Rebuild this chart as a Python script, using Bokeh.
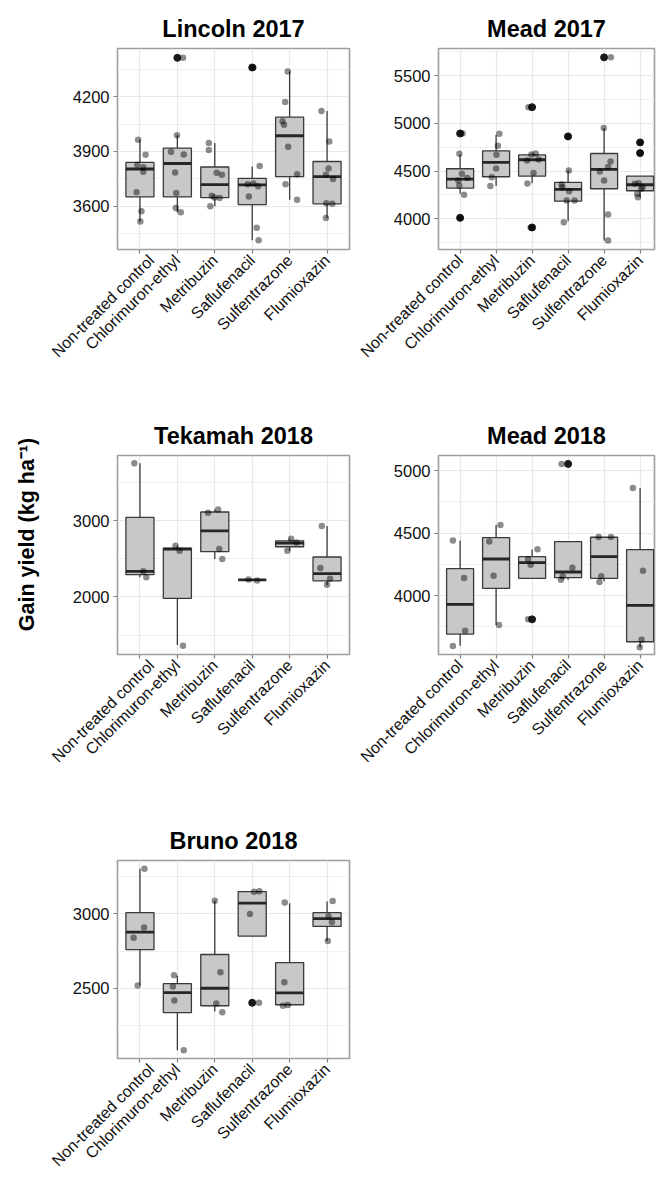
import math
from bokeh.plotting import figure
from bokeh.layouts import row, column
from bokeh.models import Range1d, FixedTicker, ColumnDataSource, Label
from bokeh.embed import file_html
from bokeh.resources import INLINE

treatments = ["Non-treated control", "Chlorimuron-ethyl", "Metribuzin",
              "Saflufenacil", "Sulfentrazone", "Flumioxazin"]
trt_pos = [1, 2, 3, 4, 5, 6]

# ---------------- Lincoln 2017 ----------------
lin17_lo = [3517, 3567, 3600, 3413, 3636, 3535]
lin17_q1 = [3651, 3651, 3647, 3609, 3762, 3613]
lin17_med = [3804, 3834, 3718, 3717, 3986, 3762]
lin17_q3 = [3840, 3918, 3815, 3753, 4088, 3845]
lin17_hi = [3964, 3989, 3946, 3818, 4338, 4122]
lin17_out_trt = [1, 3]
lin17_out_val = [4413, 4360]
lin17_pt_trt = [0, 0, 0, 0, 0, 0, 0, 0, 1, 1, 1, 1, 1, 1, 1, 1, 2, 2, 2, 2, 2, 2, 2, 2,
                3, 3, 3, 3, 3, 3, 3, 3, 4, 4, 4, 4, 4, 4, 4, 4, 5, 5, 5, 5, 5, 5, 5, 5]
lin17_pt_jit = [-0.05, 0.15, -0.07, 0.09, 0.09, -0.09, 0.04, 0.01,
                0.15, -0.01, -0.17, 0.17, -0.06, -0.03, -0.04, 0.09,
                -0.16, -0.16, 0.05, 0.19, -0.08, -0.01, 0.13, -0.12,
                0.03, 0.2, -0.12, 0.03, 0.16, -0.09, 0.12, 0.17,
                -0.05, -0.12, -0.19, -0.15, -0.04, 0.2, -0.11, 0.2,
                -0.15, 0.06, 0.04, -0.03, 0.16, -0.02, 0.14, -0.03]
lin17_pt_val = [3964, 3882, 3827, 3813, 3789, 3676, 3573, 3517,
                4413, 3989, 3898, 3884, 3785, 3673, 3591, 3567,
                3946, 3908, 3784, 3773, 3657, 3648, 3645, 3600,
                4360, 3820, 3720, 3725, 3709, 3653, 3482, 3413,
                4338, 4171, 4066, 4046, 3926, 3775, 3720, 3636,
                4122, 3955, 3807, 3773, 3749, 3616, 3613, 3535]
lin17_yrange = [3363, 4464]
lin17_yticks = [3600, 3900, 4200]
lin17_yminor = [3450, 3750, 4050, 4350]

# ---------------- Mead 2017 ----------------
mea17_lo = [4262, 4343, 4374, 3975, 3773, 4227]
mea17_q1 = [4322, 4441, 4448, 4185, 4315, 4294]
mea17_med = [4416, 4591, 4619, 4308, 4518, 4357]
mea17_q3 = [4525, 4713, 4671, 4381, 4685, 4448]
mea17_hi = [4675, 4878, 4686, 4507, 4951, 4448]
mea17_out_trt = [0, 0, 2, 2, 3, 4, 5, 5]
mea17_out_val = [4895, 4010, 5171, 3909, 4864, 5693, 4801, 4689]
mea17_pt_trt = [0, 0, 0, 0, 0, 0, 0, 0, 1, 1, 1, 1, 1, 1, 2, 2, 2, 2, 2, 2, 2, 2,
                3, 3, 3, 3, 3, 3, 3, 3, 4, 4, 4, 4, 4, 4, 4, 4, 5, 5, 5, 5, 5, 5, 5, 5]
mea17_pt_jit = [0.07, -0.02, 0.05, 0.2, -0.05, -0.02, 0.11, 0.01,
                0.09, 0.05, 0.01, 0.0, -0.12, -0.16,
                -0.1, 0.1, -0.02, -0.14, 0.18, 0.04, -0.13, -0.04,
                -0.02, 0.02, -0.18, -0.16, 0.03, 0.18, -0.04, -0.12,
                0.19, -0.01, 0.18, 0.11, -0.12, 0.0, 0.11, 0.11,
                0.0, 0.0, -0.15, -0.04, 0.03, -0.06, -0.08, 0.07]
mea17_pt_val = [4895, 4682, 4472, 4427, 4402, 4350, 4252, 4010,
                4892, 4766, 4671, 4528, 4437, 4343,
                5171, 4686, 4675, 4612, 4622, 4479, 4371, 3909,
                4864, 4507, 4360, 4332, 4290, 4192, 4192, 3965,
                5693, 4951, 4601, 4542, 4497, 4402, 4045, 3773,
                4801, 4689, 4367, 4374, 4315, 4227, 4262, 4332]
mea17_yrange = [3678, 5786]
mea17_yticks = [4000, 4500, 5000, 5500]
mea17_yminor = [3750, 4250, 4750, 5250, 5750]

# ---------------- Tekamah 2018 ----------------
tek18_lo = [2260, 1370, 2498, 2225, 2606, 2156]
tek18_q1 = [2294, 1983, 2593, 2225, 2658, 2212]
tek18_med = [2335, 2628, 2866, 2225, 2706, 2307]
tek18_q3 = [3043, 2641, 3113, 2225, 2736, 2524]
tek18_hi = [3753, 2671, 3147, 2225, 2762, 2931]
tek18_out_trt = []
tek18_out_val = []
tek18_pt_trt = [0, 0, 0, 1, 1, 1, 2, 2, 2, 2, 3, 3, 4, 4, 4, 5, 5, 5, 5]
tek18_pt_jit = [-0.15, 0.09, 0.17, -0.05, 0.06, 0.15, -0.18, 0.09, 0.12, 0.2,
                -0.1, 0.13, 0.04, -0.06, 0.18, -0.14, -0.18, 0.08, 0.0]
tek18_pt_val = [3753, 2338, 2260, 2671, 2606, 1363, 3104, 3147, 2628, 2498,
                2229, 2216, 2762, 2606, 2714, 2931, 2381, 2238, 2160]
tek18_yrange = [1247, 3853]
tek18_yticks = [2000, 3000]
tek18_yminor = [1500, 2500, 3500]

# ---------------- Mead 2018 ----------------
mea18_lo = [3600, 3765, 4139, 4128, 4115, 3587]
mea18_q1 = [3693, 4059, 4139, 4144, 4139, 3632]
mea18_med = [3931, 4293, 4264, 4189, 4312, 3923]
mea18_q3 = [4216, 4464, 4312, 4432, 4467, 4368]
mea18_hi = [4440, 4565, 4368, 4432, 4467, 4861]
mea18_out_trt = [2, 3]
mea18_out_val = [3811, 5053]
mea18_pt_trt = [0, 0, 0, 0, 1, 1, 1, 1, 2, 2, 2, 2, 3, 3, 3, 3, 4, 4, 4, 4, 5, 5, 5, 5]
mea18_pt_jit = [-0.2, 0.11, 0.14, -0.2, 0.12, -0.19, -0.07, 0.08,
                0.15, -0.11, -0.04, -0.11, -0.18, 0.12, -0.15, -0.2,
                -0.15, 0.19, -0.08, -0.13, -0.2, 0.08, 0.04, -0.01]
mea18_pt_val = [4440, 4141, 3720, 3597, 4565, 4432, 4160, 3765,
                4371, 4293, 4248, 3811, 5053, 4224, 4155, 4128,
                4469, 4469, 4155, 4109, 4861, 4200, 3648, 3587]
mea18_yrange = [3530, 5120]
mea18_yticks = [4000, 4500, 5000]
mea18_yminor = [3750, 4250, 4750]

# ---------------- Bruno 2018 ----------------
bru18_lo = [2522, 2083, 2344, 2851, 2382, 2818]
bru18_q1 = [2760, 2336, 2382, 2851, 2389, 2916]
bru18_med = [2878, 2471, 2500, 3073, 2469, 2969]
bru18_q3 = [3009, 2531, 2727, 3151, 2673, 3009]
bru18_hi = [3304, 2584, 3089, 3153, 3073, 3084]
bru18_out_trt = [3]
bru18_out_val = [2402]
bru18_pt_trt = [0, 0, 0, 0, 1, 1, 1, 1, 2, 2, 2, 2, 3, 3, 3, 3, 4, 4, 4, 4, 5, 5, 5, 5]
bru18_pt_jit = [0.12, 0.11, -0.17, -0.06, -0.09, -0.12, -0.08, 0.17,
                0.0, 0.15, 0.04, 0.2, 0.05, 0.19, -0.06, 0.18,
                -0.13, -0.14, -0.18, -0.05, 0.15, 0.04, 0.13, 0.02]
bru18_pt_val = [3304, 2909, 2840, 2518, 2587, 2511, 2418, 2083,
                3089, 2607, 2398, 2338, 3149, 3153, 3000, 2402,
                3078, 2540, 2382, 2387, 3087, 2984, 2944, 2818]
bru18_yrange = [2027, 3360]
bru18_yticks = [2500, 3000]
bru18_yminor = [2250, 2750, 3250]

FONT = "Liberation Sans"
BOX_W = 0.75


def make_panel(title, lo, q1, med, q3, hi, out_trt, out_val, pt_trt, pt_jit, pt_val,
               yrange, yticks, yminor, right_col, height, mb_top, mb_bottom):
    if right_col:
        width, mb_left, mb_right, xend = 300, 82, 2, 6.4
    else:
        width, mb_left, mb_right, xend = 308, 69, 7, 6.6
    p = figure(width=width, height=height, output_backend="svg", toolbar_location=None,
               x_range=Range1d(0.4, xend), y_range=Range1d(yrange[0], yrange[1]),
               min_border_left=mb_left, min_border_right=mb_right,
               min_border_top=mb_top, min_border_bottom=mb_bottom, title=title)
    p.title.text_font = FONT
    p.title.text_font_size = "23.5px"
    p.title.text_font_style = "bold"
    p.title.align = "center"
    p.title.text_color = "black"
    p.title.standoff = 14
    p.background_fill_color = "white"
    p.border_fill_color = "white"
    p.outline_line_color = "#9E9E9E"
    p.outline_line_width = 1.6

    p.xaxis.ticker = FixedTicker(ticks=trt_pos)
    p.xaxis.major_label_overrides = {pos: name for pos, name in zip(trt_pos, treatments)}
    p.xaxis.major_label_orientation = math.pi / 4
    p.yaxis.ticker = FixedTicker(ticks=yticks, minor_ticks=yminor)
    for ax in (p.xaxis, p.yaxis):
        ax.axis_line_color = None
        ax.major_tick_in = 0
        ax.major_tick_out = 4
        ax.major_tick_line_color = "#808080"
        ax.major_tick_line_width = 1.2
        ax.minor_tick_line_color = None
        ax.major_label_text_font = FONT
        ax.major_label_text_color = "#111111"
    p.xaxis.major_label_text_font_size = "16px"
    p.yaxis.major_label_text_font_size = "16.5px"
    p.xaxis.major_label_standoff = 4
    p.yaxis.major_label_standoff = 4

    p.xgrid.grid_line_color = "#E8E8E8"
    p.xgrid.grid_line_width = 1.2
    p.ygrid.grid_line_color = "#E8E8E8"
    p.ygrid.grid_line_width = 1.2
    p.ygrid.minor_grid_line_color = "#EEEEEE"
    p.ygrid.minor_grid_line_width = 0.9

    box = ColumnDataSource(dict(
        x=trt_pos, lo=lo, q1=q1, med=med, q3=q3, hi=hi,
        xl=[x - BOX_W / 2 for x in trt_pos], xr=[x + BOX_W / 2 for x in trt_pos]))
    line_col = "#3A3A3A"
    p.segment(x0="x", y0="q3", x1="x", y1="hi", source=box, line_color=line_col, line_width=1.3)
    p.segment(x0="x", y0="lo", x1="x", y1="q1", source=box, line_color=line_col, line_width=1.3)
    p.vbar(x="x", width=BOX_W, bottom="q1", top="q3", source=box,
           fill_color="#C8C8C8", line_color=line_col, line_width=1.3)
    p.segment(x0="xl", y0="med", x1="xr", y1="med", source=box,
              line_color="#262626", line_width=2.8)

    if out_val:
        p.scatter(x=[trt_pos[t] for t in out_trt], y=out_val, size=7,
                  fill_color="#1A1A1A", line_color="#1A1A1A", marker="circle")
    p.scatter(x=[trt_pos[t] + j for t, j in zip(pt_trt, pt_jit)], y=pt_val, size=6.5,
              fill_color="black", line_color=None, fill_alpha=0.45, marker="circle")
    return p


H1, H2, H3 = 413, 405, 360

p1 = make_panel("Lincoln 2017", lin17_lo, lin17_q1, lin17_med, lin17_q3, lin17_hi,
                lin17_out_trt, lin17_out_val, lin17_pt_trt, lin17_pt_jit, lin17_pt_val,
                lin17_yrange, lin17_yticks, lin17_yminor, False, H1, 48, 164)
p2 = make_panel("Mead 2017", mea17_lo, mea17_q1, mea17_med, mea17_q3, mea17_hi,
                mea17_out_trt, mea17_out_val, mea17_pt_trt, mea17_pt_jit, mea17_pt_val,
                mea17_yrange, mea17_yticks, mea17_yminor, True, H1, 48, 164)
p3 = make_panel("Tekamah 2018", tek18_lo, tek18_q1, tek18_med, tek18_q3, tek18_hi,
                tek18_out_trt, tek18_out_val, tek18_pt_trt, tek18_pt_jit, tek18_pt_val,
                tek18_yrange, tek18_yticks, tek18_yminor, False, H2, 40, 164)
p4 = make_panel("Mead 2018", mea18_lo, mea18_q1, mea18_med, mea18_q3, mea18_hi,
                mea18_out_trt, mea18_out_val, mea18_pt_trt, mea18_pt_jit, mea18_pt_val,
                mea18_yrange, mea18_yticks, mea18_yminor, True, H2, 40, 164)
p5 = make_panel("Bruno 2018", bru18_lo, bru18_q1, bru18_med, bru18_q3, bru18_hi,
                bru18_out_trt, bru18_out_val, bru18_pt_trt, bru18_pt_jit, bru18_pt_val,
                bru18_yrange, bru18_yticks, bru18_yminor, False, H3, 40, 119)

total_h = H1 + H2 + H3
lab = figure(width=48, height=total_h, output_backend="svg", toolbar_location=None,
             x_range=Range1d(0, 48), y_range=Range1d(0, total_h),
             x_axis_location=None, y_axis_location=None, min_border=0,
             outline_line_color=None)
lab.grid.visible = False
lab.add_layout(Label(x=26, y=total_h - 534, text="Gain yield (kg ha\u207B\u00B9)",
                     angle=math.pi / 2, text_align="center", text_baseline="middle",
                     text_font=FONT, text_font_size="21.5px", text_font_style="bold",
                     text_color="black"))

layout = row(lab, column(row(p1, p2), row(p3, p4), row(p5)))

open("out.html", "w").write(file_html(layout, INLINE))
